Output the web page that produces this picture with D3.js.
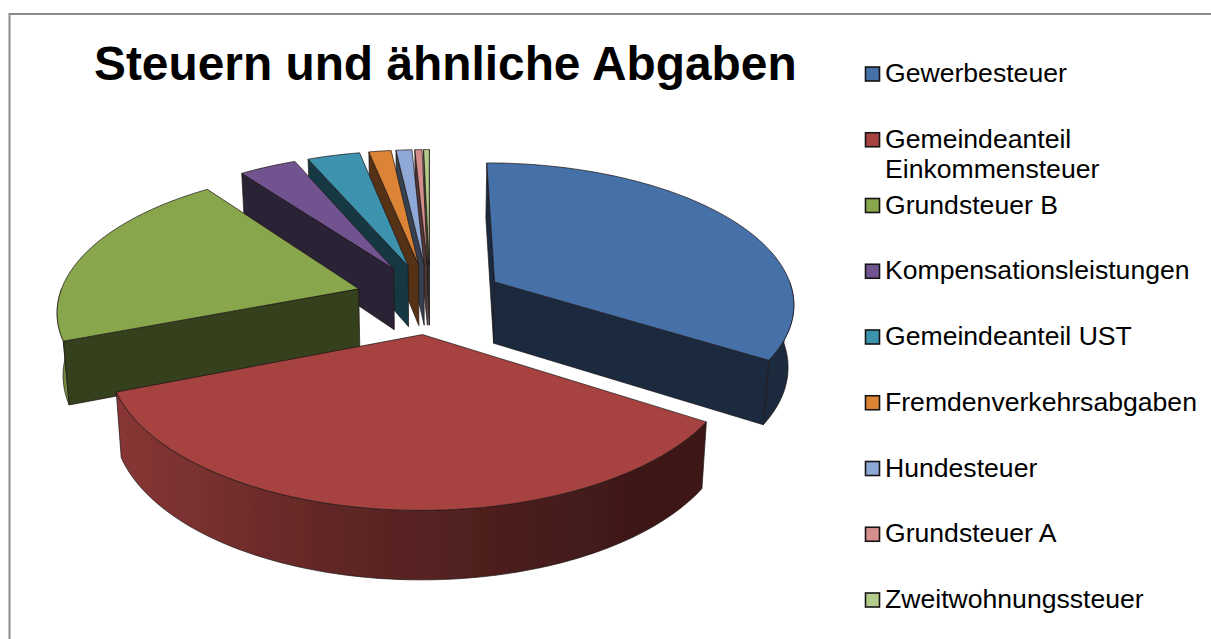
<!DOCTYPE html>
<html><head><meta charset="utf-8">
<script src="https://cdn.jsdelivr.net/npm/d3@7"></script>
<style>html,body{margin:0;padding:0;background:#fff;overflow:hidden}svg{display:block}text{font-family:"Liberation Sans",Arial,sans-serif;fill:#000}</style>
</head><body><svg id="c" width="1211" height="639"></svg>
<script>
const titleText = "Steuern und ähnliche Abgaben";
const categories = ["Gewerbesteuer","Gemeindeanteil\nEinkommensteuer","Grundsteuer B","Kompensationsleistungen","Gemeindeanteil UST","Fremdenverkehrsabgaben","Hundesteuer","Grundsteuer A","Zweitwohnungssteuer"];
const values = [34.0, 35.1, 20.8, 3.6, 3.3, 1.4, 1.0, 0.45, 0.35];
const colors = ["#4570a8","#a64240","#88a64c","#70538f","#3c93ae","#dc8434","#8fa9d6","#d48e8c","#b3cc8c"];

const svg = d3.select("#c");
svg.append("rect").attr("x",9.5).attr("y",14).attr("width",1300).attr("height",700)
  .attr("fill","#fff").attr("stroke","#8a8a8a").attr("stroke-width",2);

const cx = 430, cy = 298.5, R = 300, Rv = 140, k = 0.14, explode = 0.25;
function project(X, Y, z){
  const s = 1/(1-k*Y);
  const depth = z*(62+6*Y), shrink = 1-0.016*z;
  return [cx + R*X*s*shrink, cy + Rv*Y*s + depth];
}
const pie = d3.pie().sort(null).value(d=>d);
const arcs = pie(values);
const defs = svg.append("defs");
defs.append("filter").attr("id","soft").append("feGaussianBlur").attr("stdDeviation",0.4);
const chart = svg.append("g").attr("filter","url(#soft)");
const lineGen = d3.line();
function mix(c,f){ const o=d3.rgb(c); return d3.rgb(o.r*f,o.g*f,o.b*f).formatHex(); }

function slice(a){
  const m=(a.startAngle+a.endAngle)/2, ox=explode*Math.sin(m), oy=-explode*Math.cos(m);
  const pt=(t,r,z)=>project(ox+r*Math.sin(t), oy-r*Math.cos(t), z);
  const arcPts=(t0,t1,z)=>{const n=Math.max(2,Math.ceil((t1-t0)/0.02));return d3.range(n+1).map(i=>pt(t0+(t1-t0)*i/n,1,z));};
  return {pt,arcPts};
}
function area(p){let s=0;p.forEach((q,i)=>{const r=p[(i+1)%p.length];s+=q[0]*r[1]-r[0]*q[1];});return s;}

const order = d3.range(values.length).filter(i=>i>=3).reverse().concat([2,0,1]);
order.forEach(i=>{
  const a=arcs[i], c=colors[i], {pt,arcPts}=slice(a);
  const gid="g"+i;
  const g=defs.append("linearGradient").attr("id",gid).attr("gradientUnits","userSpaceOnUse")
    .attr("x1",100).attr("x2",640).attr("y1",0).attr("y2",0);
  g.append("stop").attr("offset",0).attr("stop-color",mix(c,0.84));
  g.append("stop").attr("offset",0.45).attr("stop-color",mix(c,0.58));
  g.append("stop").attr("offset",1).attr("stop-color",mix(c,0.37));
  const wallFill=mix(c,0.38);
  const stroke="#1c1414";
  const draw=(pts,fill)=>chart.append("path").attr("d",lineGen(pts)+"Z").attr("fill",fill)
    .attr("stroke",stroke).attr("stroke-width",0.7).attr("stroke-linejoin","round");
  const s0=pt(a.startAngle,1,0), sb=pt(a.startAngle,1,1), e0=pt(a.endAngle,1,0), eb=pt(a.endAngle,1,1), c0=pt(0,0,0), cb=pt(0,0,1);
  const sw=[c0,s0,sb,cb], ew=[c0,e0,eb,cb];
  const t0=Math.max(a.startAngle,Math.PI/2), t1=Math.min(a.endAngle,Math.PI*1.5);
  if(t1>t0){
    draw(arcPts(t0,t1,0).concat(arcPts(t0,t1,1).reverse()),`url(#${gid})`);
  }
  if(area(sw)<0) draw(sw,wallFill);
  if(area(ew)>0) draw(ew,wallFill);
  draw([c0].concat(arcPts(a.startAngle,a.endAngle,0)),c);
});

svg.append("text").attr("x",94).attr("y",80).attr("font-size",47.85).attr("font-weight","bold").text(titleText);

const rowY=d3.scalePoint().domain(categories).range([82,608]);
const leg=svg.selectAll("g.l").data(categories).join("g").attr("class","l")
  .attr("transform",d=>`translate(0,${rowY(d)})`);
leg.append("rect").attr("x",865.5).attr("y",-15).attr("width",14).attr("height",14)
  .attr("fill",(d,i)=>colors[i]).attr("stroke","#151515").attr("stroke-width",1.6);
leg.append("text").attr("x",885).attr("font-size",26.6).each(function(d){
  d3.select(this).selectAll("tspan").data(d.split("\n")).join("tspan")
    .attr("x",885).attr("dy",(s,j)=>j?30:0).text(s=>s);
});
</script></body></html>
